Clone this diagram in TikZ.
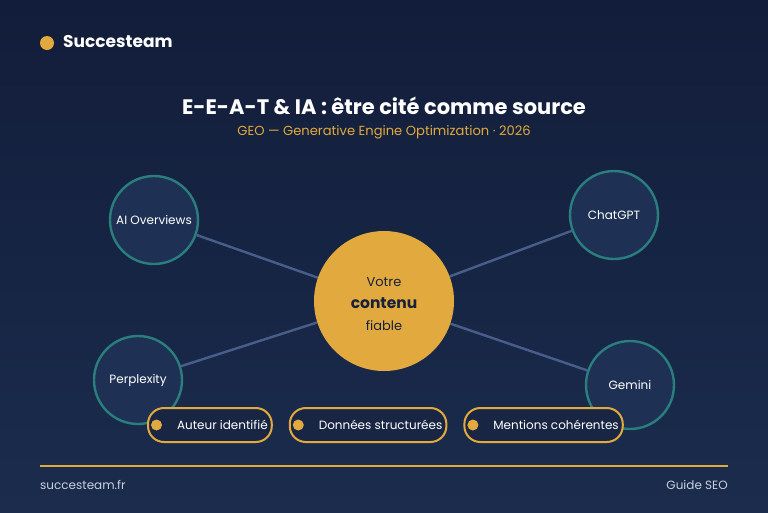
\documentclass[tikz,border=0pt]{standalone}
\usepackage{fontspec}
\setmainfont{Poppins}
\usetikzlibrary{positioning, backgrounds}
\definecolor{bgtop}{RGB}{18,29,58}
\definecolor{bgbot}{RGB}{27,44,77}
\definecolor{gold}{RGB}{226,170,62}
\definecolor{satfill}{RGB}{30,49,84}
\definecolor{tealring}{RGB}{42,126,126}
\definecolor{linkcol}{RGB}{72,94,138}
\definecolor{ink}{RGB}{24,33,58}
\definecolor{footgray}{RGB}{200,208,224}
\definecolor{pillfill}{RGB}{24,38,68}
\pgfdeclarelayer{links}
\pgfsetlayers{background,links,main}
\tikzset{
    satellite/.style={circle, draw=tealring, line width=2.4pt, fill=satfill, minimum size=88pt, inner sep=0pt, text=white, font=\fontsize{12}{14}\selectfont},
    core/.style={circle, fill=gold, minimum size=140pt, inner sep=0pt},
    coretext/.style={inner sep=0pt, text=ink, align=center, font=\fontsize{13}{22}\selectfont},
    pill/.style={rectangle, draw=gold, line width=2pt, fill=pillfill, rounded corners=16pt, minimum height=34pt, inner xsep=4pt, inner ysep=0pt, text=white, font=\fontsize{12}{14}\selectfont},
    pilldot/.style={circle, fill=gold, minimum size=11pt, inner sep=0pt},
    link/.style={draw=linkcol, line width=2.4pt},
}

\begin{document}
\begin{tikzpicture}[x=1pt, y=-1pt, node distance=16pt]
    \useasboundingbox (0,0) rectangle (768,512);
    \begin{scope}[on background layer]
        \shade[top color=bgtop, bottom color=bgbot] (0,0) rectangle (768,512);
    \end{scope}

    % header
    \node[pilldot, minimum size=14pt] (brand dot) at (47,43) {};
    \node[anchor=west, text=white, font=\fontsize{17}{20}\selectfont\bfseries, inner sep=0pt] (brand) at (63,42) {Succesteam};

    \node[text=white, font=\fontsize{21}{24}\selectfont\bfseries] (title) at (384,106) {E-E-A-T \& IA : être cité comme source};
    \node[text=gold, font=\fontsize{13.1}{15}\selectfont] (subtitle) at (384,132) {GEO — Generative Engine Optimization · 2026};

    % hub and engines
    \node[core] (content) at (384,301) {};
    \node[coretext] (content text) at (384,304) {Votre\\{\fontsize{15.5}{18}\selectfont\bfseries contenu}\\fiable};

    \node[satellite] (aio) at (154,220) {AI Overviews};
    \node[satellite] (chatgpt) at (614,215) {ChatGPT};
    \node[satellite] (perplexity) at (138,380) {Perplexity};
    \node[satellite] (gemini) at (630,385) {Gemini};

    \begin{pgfonlayer}{links}
        \draw[link] (content) -- (aio);
        \draw[link] (content) -- (chatgpt);
        \draw[link] (content) -- (perplexity);
        \draw[link] (content) -- (gemini);
    \end{pgfonlayer}

    % signals
    \node[pill, anchor=west] (author) at (147,425) {\hspace*{25pt}Auteur identifié};
    \node[pill, right=of author] (schema) {\hspace*{25pt}Données structurées};
    \node[pill, right=of schema] (mentions) {\hspace*{25pt}Mentions cohérentes};
    \node[pilldot, right=9.5pt of author.west, anchor=center] (author dot) {};
    \node[pilldot, right=9.5pt of schema.west, anchor=center] (schema dot) {};
    \node[pilldot, right=9.5pt of mentions.west, anchor=center] (mentions dot) {};

    % footer
    \coordinate (rule left) at (40,466);
    \coordinate (rule right) at (728,466);
    \draw[gold, line width=2pt] (rule left) -- (rule right);
    \node[anchor=west, inner sep=0pt, text=footgray, font=\fontsize{12}{14}\selectfont] (site) at (40,485) {succesteam.fr};
    \node[anchor=east, inner sep=0pt, text=footgray, font=\fontsize{12}{14}\selectfont] (guide) at (728,485) {Guide SEO};
\end{tikzpicture}
\end{document}
